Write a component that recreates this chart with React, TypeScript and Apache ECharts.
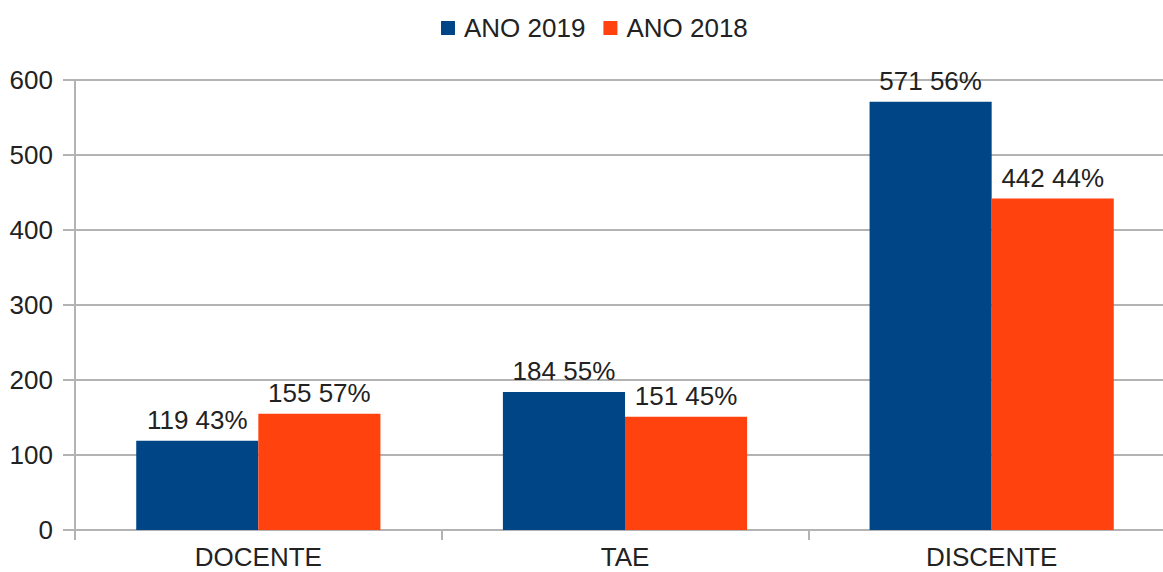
import React, { useEffect, useRef } from "react";
import * as echarts from "echarts";

const categories = ["DOCENTE", "TAE", "DISCENTE"];
const ano2019 = [119, 184, 571];
const ano2018 = [155, 151, 442];
const yTicks = [0, 100, 200, 300, 400, 500, 600];

const pct = (a: number, b: number) => Math.round((a / (a + b)) * 100);

export default function App() {
  const ref = useRef<HTMLDivElement>(null);
  useEffect(() => {
    if (!ref.current) return;
    const chart = echarts.init(ref.current, undefined, { renderer: "svg" });
    const font = "'Liberation Sans', Arial, sans-serif";
    const fs = 26;
    const labelStyle = {
      show: true,
      position: "top" as const,
      distance: 8,
      fontFamily: font,
      fontSize: fs,
      color: "#222",
    };
    chart.setOption({
      animation: false,
      textStyle: { fontFamily: font },
      legend: {
        top: 10,
        left: 436,
        itemWidth: 14,
        itemHeight: 14,
        itemGap: 18,
        icon: "rect",
        textStyle: { fontFamily: font, fontSize: fs, color: "#222", padding: [0, 0, 0, 4] },
        data: ["ANO 2019", "ANO 2018"],
      },
      grid: {
        left: 75,
        width: 1100,
        top: 80,
        bottom: 42,
        containLabel: false,
        outerBoundsMode: "none",
      },
      xAxis: {
        type: "category",
        data: categories,
        axisLine: { lineStyle: { color: "#b3b3b3", width: 2 } },
        axisTick: { show: true, length: 10, lineStyle: { color: "#b3b3b3", width: 2 } },
        axisLabel: { fontFamily: font, fontSize: fs, color: "#222", margin: 14 },
      },
      yAxis: {
        type: "value",
        min: yTicks[0],
        max: yTicks[yTicks.length - 1],
        interval: 100,
        axisLine: { show: true, lineStyle: { color: "#b3b3b3", width: 2 } },
        axisTick: { show: true, length: 12, lineStyle: { color: "#b3b3b3", width: 2 } },
        splitLine: { lineStyle: { color: "#b3b3b3", width: 2 } },
        axisLabel: { fontFamily: font, fontSize: fs, color: "#222", margin: 22 },
      },
      series: [
        {
          name: "ANO 2019",
          type: "bar",
          data: ano2019,
          barGap: "0%",
          barCategoryGap: "33.4%",
          itemStyle: { color: "#004586" },
          label: {
            ...labelStyle,
            formatter: (p: any) => `${p.value} ${pct(ano2019[p.dataIndex], ano2018[p.dataIndex])}%`,
          },
        },
        {
          name: "ANO 2018",
          type: "bar",
          data: ano2018,
          barGap: "0%",
          barCategoryGap: "33.4%",
          itemStyle: { color: "#ff420e" },
          label: {
            ...labelStyle,
            formatter: (p: any) => `${p.value} ${pct(ano2018[p.dataIndex], ano2019[p.dataIndex])}%`,
          },
        },
      ],
    });
    return () => chart.dispose();
  }, []);
  return <div ref={ref} style={{ width: 1163, height: 572, position: "absolute", left: 0, top: 0 }} />;
}
